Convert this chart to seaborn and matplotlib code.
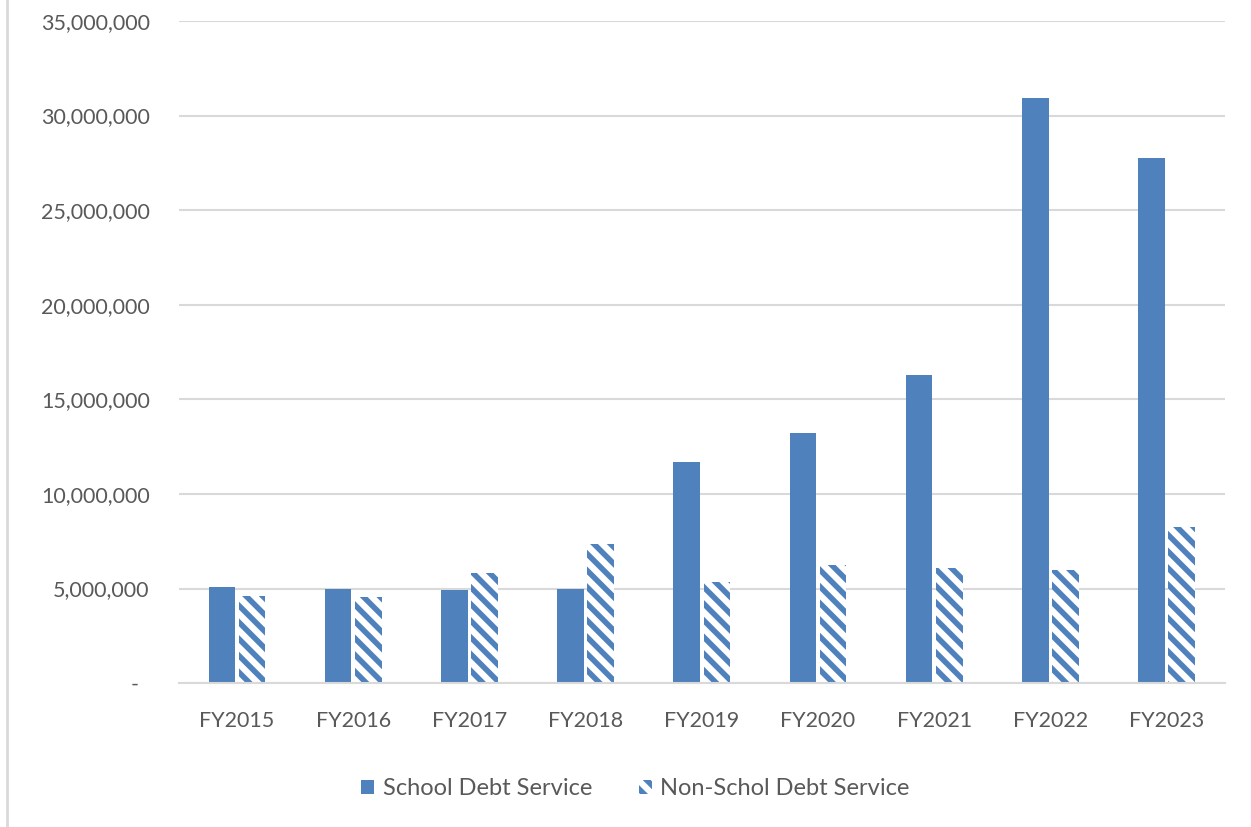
import pandas as pd
import numpy as np
import matplotlib
matplotlib.use("Agg")
import matplotlib.pyplot as plt
import seaborn as sns
from matplotlib.ticker import FuncFormatter, MultipleLocator
from matplotlib.lines import Line2D

# Veriler
years = ["FY2015", "FY2016", "FY2017", "FY2018", "FY2019", "FY2020", "FY2021", "FY2022", "FY2023"]
school = [5060000, 4980000, 4910000, 4970000, 11710000, 13220000, 16290000, 30940000, 27740000]
non_school = [4590000, 4530000, 5820000, 7350000, 5320000, 6240000, 6060000, 5990000, 8230000]
series_names = ["School Debt Service", "Non-Schol Debt Service"]

df = pd.DataFrame({
    "year": years * 2,
    "value": school + non_school,
    "series": [series_names[0]] * len(years) + [series_names[1]] * len(years),
})

sns.set_theme(style="white")
plt.rcParams["font.family"] = ["Lato", "DejaVu Sans"]
plt.rcParams["hatch.linewidth"] = 4.0

blue = "#4F81BD"
text_gray = "#595959"
grid_gray = "#D9D9D9"

fig = plt.figure(figsize=(12.51, 8.27), dpi=100)
ax = fig.add_axes([0.143, 0.174, 0.836, 0.8006])

sns.barplot(data=df, x="year", y="value", hue="series", palette=[blue, blue],
            width=0.52, gap=0.12, saturation=1, ax=ax, legend=False)

# ikinci seri: taralı çubuklar
for p in ax.containers[1]:
    p.set_facecolor("white")
    p.set_edgecolor(blue)
    p.set_hatch("\\\\")
    p.set_linewidth(0)
for p in ax.containers[0]:
    p.set_linewidth(0)

ax.set_ylim(0, 35000000)
ax.yaxis.set_major_locator(MultipleLocator(5000000))
ax.yaxis.set_major_formatter(FuncFormatter(lambda v, pos: "-  " if v == 0 else f"{v:,.0f}"))
ax.set_xlim(-0.5, len(years) - 0.5)
ax.grid(axis="y", color=grid_gray, linewidth=1.5)
ax.set_axisbelow(True)
for s in ["top", "right", "left"]:
    ax.spines[s].set_visible(False)
ax.spines["bottom"].set_color(grid_gray)
ax.spines["bottom"].set_linewidth(1.5)
ax.set_xlabel("")
ax.set_ylabel("")
ax.tick_params(axis="y", length=0, pad=21, labelsize=15.5, labelcolor=text_gray)
ax.tick_params(axis="x", length=0, pad=20, labelsize=15.5, labelcolor=text_gray)

leg = ax.legend(handles=[ax.containers[0], ax.containers[1]], labels=series_names,
                loc="center", bbox_to_anchor=(0.508, 0.046), bbox_transform=fig.transFigure,
                ncol=2, frameon=False, fontsize=17, handlelength=0.55, handleheight=0.55,
                handletextpad=0.35, columnspacing=2.0, labelcolor=text_gray)

# sol kenardaki gri çizgi
fig.add_artist(Line2D([0.0055, 0.0055], [0, 1], transform=fig.transFigure,
                      color=grid_gray, linewidth=2))

plt.savefig("out.png", dpi=100)
plt.close()
